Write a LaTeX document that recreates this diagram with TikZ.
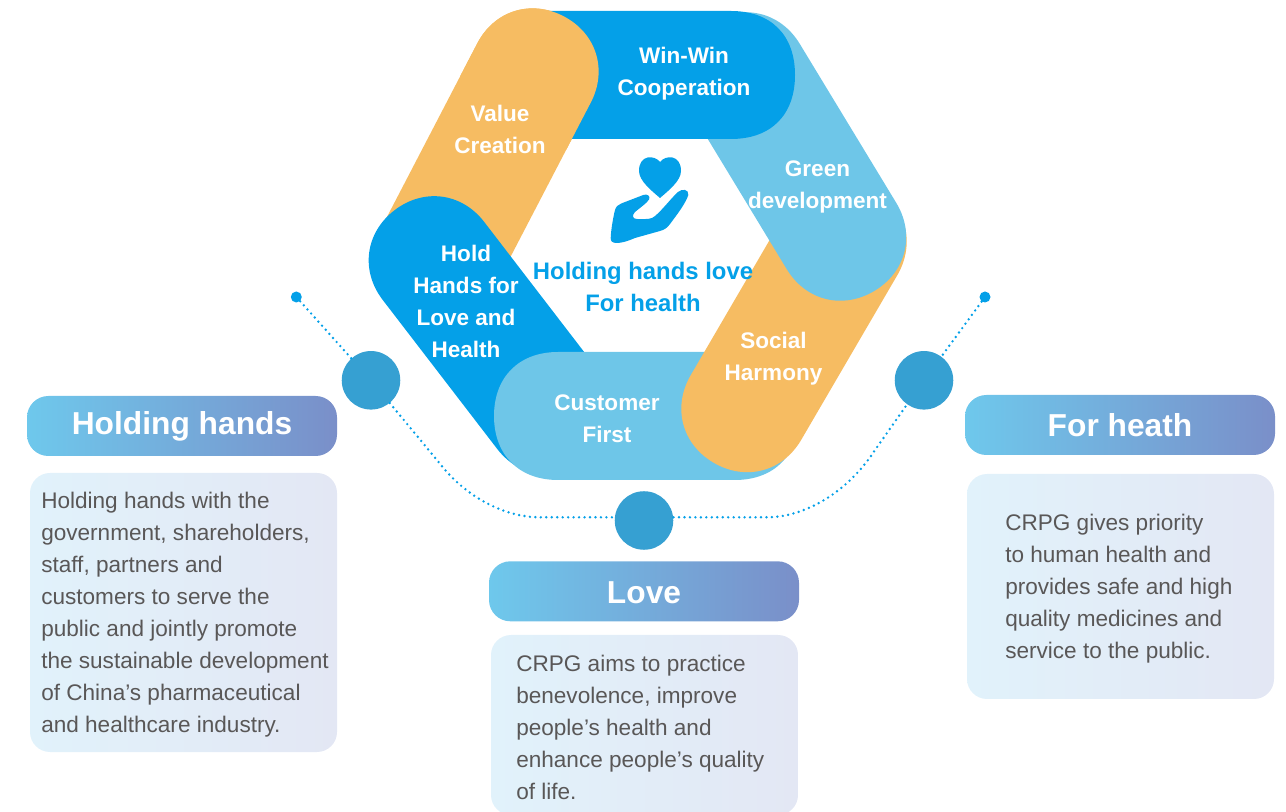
\documentclass[tikz,border=0pt]{standalone}
\usepackage{fontspec}
\setmainfont{Liberation Sans}

\definecolor{deepblue}{HTML}{04A0E8}
\definecolor{skyblue}{HTML}{6EC6E8}
\definecolor{sandy}{HTML}{F6BC62}
\definecolor{ballblue}{HTML}{36A0D2}
\definecolor{bodygrey}{HTML}{595757}
\definecolor{pillleft}{HTML}{6EC8EC}
\definecolor{pillright}{HTML}{7A8FC9}
\definecolor{boxleft}{HTML}{E1F2FB}
\definecolor{boxright}{HTML}{E3E7F4}

\tikzstyle{bandlabel}=[text=white, align=center, font=\fontsize{16.9}{24}\selectfont\bfseries, inner sep=0pt]
\tikzstyle{motto}=[text=deepblue, align=center, font=\fontsize{17.9}{24}\selectfont\bfseries, inner sep=0pt]
\tikzstyle{ball}=[circle, fill=ballblue, minimum size=43.9pt, inner sep=0pt]
\tikzstyle{tipdot}=[circle, fill=deepblue, minimum size=8.25pt, inner sep=0pt]
\tikzstyle{dotline}=[deepblue, line width=2pt, line cap=round, dash pattern=on 0pt off 4.1pt]
\tikzstyle{pill}=[rounded corners=16pt, minimum width=232.5pt, minimum height=45pt, inner sep=0pt,
  left color=pillleft, right color=pillright, text=white, text depth=4pt,
  font=\fontsize{23.8}{28}\selectfont\bfseries]
\tikzstyle{textbox}=[rounded corners=15pt, minimum width=230.25pt, inner sep=0pt,
  left color=boxleft, right color=boxright]
\tikzstyle{boxtext}=[anchor=west, align=left, inner sep=0pt, text=bodygrey, font=\fontsize{16.93}{24}\selectfont]

% colour, start x, start y, end x, end y, control length of the caps
\newcommand{\bandshape}[6]{%
  \pgfmathsetmacro{\bandang}{atan2(-(#5-#3),#4-#2)}
  \pgfmathsetmacro{\bandlen}{veclen(#5-#3,#4-#2)}
  \fill[#1, shift={(#2,#3)}, rotate=\bandang] (0,-64) -- (\bandlen,-64)
    .. controls (\bandlen+#6,-64) and (\bandlen+64,-#6) .. (\bandlen+64,0)
    .. controls (\bandlen+64,#6) and (\bandlen+#6,64) .. (\bandlen,64)
    -- (0,64) .. controls (-#6,64) and (-64,#6) .. (-64,0)
    .. controls (-64,-#6) and (-#6,-64) .. (0,-64) -- cycle;
}

\begin{document}
\begin{tikzpicture}[x=0.75pt, y=-0.75pt]
      \useasboundingbox (0,0) rectangle (1286,812);

      % ring, each band lies over the next one
      \bandshape{sandy}{534}{73}{444}{246}{37}
      \bandshape{deepblue}{433.5}{261}{548}{410}{37}
      \bandshape{skyblue}{558}{416}{735}{416}{39}
      \bandshape{sandy}{746}{407.5}{842}{243}{37}
      \bandshape{skyblue}{841.5}{236}{745}{77}{37}
      \bandshape{deepblue}{540}{75}{731}{75}{40}
      \begin{scope}
        \clip (460,0) rectangle (620,150);
        \bandshape{sandy}{534}{73}{444}{246}{37}
      \end{scope}

      \node[bandlabel] (winwin) at (684,74) {Win-Win\\Cooperation};
      \node[bandlabel] (value) at (500,129) {Value\\Creation};
      \node[bandlabel] (green) at (817.5,187) {Green\\development};
      \node[bandlabel] (hold) at (466,301) {Hold\\Hands for\\Love and\\Health};
      \node[bandlabel] (customer) at (607,419) {Customer\\First};
      \node[bandlabel] (social) at (773.5,359) {Social\\Harmony};
      \node[motto] (mottotext) at (643,287) {Holding hands love\\For health};

      % heart and hand
      \fill[deepblue] (660,162) .. controls (655,155) and (639,154) .. (639,171)
        .. controls (639,181) and (652,191) .. (660,198)
        .. controls (668,191) and (681,181) .. (681,171)
        .. controls (681,154) and (665,155) .. (660,162) -- cycle;
      \fill[deepblue] (610.7,238) .. controls (611,230) and (613,218) .. (615,210)
        .. controls (616,206) and (619,204.5) .. (621.7,203.3)
        -- (643.3,195) .. controls (647,193.5) and (651,196) .. (649,199.5)
        .. controls (647,203) and (641,207) .. (635,212)
        .. controls (632,215) and (632,219) .. (637,219)
        .. controls (642,219) and (648,219.5) .. (652,218)
        .. controls (658,215.5) and (672,197) .. (678,192)
        .. controls (682,188.5) and (689,189) .. (688.3,195)
        .. controls (686,203) and (676,216) .. (670,224)
        .. controls (667,228) and (665,229.5) .. (660,231)
        -- (635,238) .. controls (628,241) and (622,243) .. (616.7,243)
        .. controls (612,243) and (610.5,241) .. (610.7,238) -- cycle;

      \node[ball] (ballleft) at (371,380.3) {};
      \node[ball] (ballright) at (924,380.3) {};
      \node[ball] (ballmid) at (644,520.5) {};
      \node[tipdot] (tipleft) at (296.3,297) {};
      \node[tipdot] (tipright) at (985,297) {};
      \coordinate (kneeleft) at (446,471);
      \coordinate (bendleft) at (540,517.3);
      \coordinate (bendright) at (767,517.3);
      \coordinate (kneeright) at (875,450);
      \draw[dotline] (tipleft) -- (ballleft);
      \draw[dotline] (tipright) -- (ballright);
      \draw[dotline] (ballleft) -- (kneeleft) .. controls (470,498) and (505,517.3) .. (bendleft) -- (ballmid.west |- bendleft);
      \draw[dotline] (ballmid.east |- bendright) -- (bendright) .. controls (805,517.3) and (848,492) .. (kneeright) -- (ballright);

      \foreach \name/\x/\y/\tall/\title in {headleft/182/426/17.5pt/Holding hands, headmid/644/591.3/22pt/Love, headright/1120/425/22pt/For heath} {%
        \node[pill, text height=\tall] (\name) at (\x,\y) {\title};
      }

      \node[textbox, minimum height=209.25pt] (boxleft) at (183.5,612.5) {};
      \node[textbox, minimum height=135pt] (boxmid) at (644.5,725) {};
      \node[textbox, minimum height=168.75pt] (boxright) at (1120.5,586.5) {};
      \node[boxtext] (textleft) at (41,615)
        {Holding hands with the\\government, shareholders,\\staff, partners and\\customers to serve the\\public and jointly promote\\the sustainable development\\of China’s pharmaceutical\\and healthcare industry.};
      \node[boxtext] (textmid) at (516,727.3)
        {CRPG aims to practice\\benevolence, improve\\people’s health and\\enhance people’s quality\\of life.};
      \node[boxtext] (textright) at (1005,589)
        {CRPG gives priority\\to human health and\\provides safe and high\\quality medicines and\\service to the public.};
    \end{tikzpicture}
\end{document}
